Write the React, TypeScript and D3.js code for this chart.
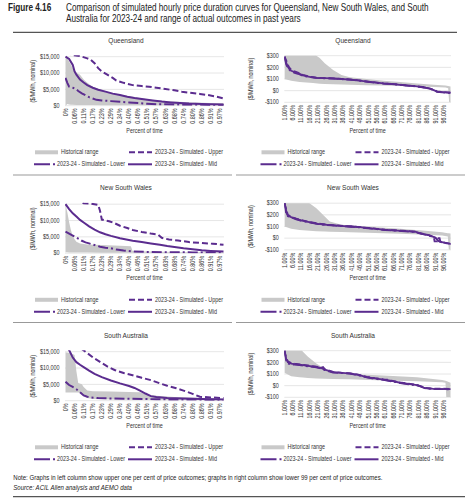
import React from "react";
import * as d3 from "d3";

const PURPLE = "#5b2c8f";
const GREY = "#c9c9c9";
const GRID = "#e0e0e0";
const FONT = "'Liberation Sans', Arial, sans-serif";
const SX = 0.82;

const panelTitles = ["Queensland", "New South Wales", "South Australia"];
const topTickLabels = ["0%", "0.06%", "0.11%", "0.17%", "0.23%", "0.29%", "0.34%", "0.40%", "0.46%", "0.51%", "0.57%", "0.63%", "0.68%", "0.74%", "0.80%", "0.86%", "0.91%", "0.97%"];
const bottomTickLabels = ["1.00%", "6.00%", "11.00%", "16.00%", "21.00%", "26.00%", "31.00%", "36.00%", "41.00%", "46.00%", "51.00%", "56.00%", "61.00%", "66.00%", "71.00%", "76.00%", "81.00%", "86.00%", "91.00%", "96.00%"];
const topYTicks = [0, 5000, 10000, 15000];
const bottomYTicks = [-100, 0, 100, 200, 300];
const legendLabels = ["Historical range", "2023-24 - Simulated - Upper", "2023-24 - Simulated - Lower", "2023-24 - Simulated - Mid"];

// ---- Upper 1 per cent (hour index 0..87) ----
const qldTopHist = [[0, 0, 15000], [1, 500, 14500], [2, 400, 13500], [3, 300, 12500], [4, 300, 11500], [6, 250, 10200], [8, 250, 9500], [10, 200, 8000], [12, 200, 7000], [15, 200, 5800], [20, 150, 4800], [25, 150, 4000], [30, 150, 3400], [35, 100, 2900], [40, 100, 2400], [45, 100, 2000], [50, 100, 1700], [55, 100, 1450], [60, 100, 1250], [70, 100, 1000], [80, 100, 850], [87, 100, 750]];
const qldTopUpper = [[0, 16500], [4, 15500], [8, 15200], [12, 14500], [14, 14000], [16, 13000], [18, 11500], [20, 10500], [23, 9500], [26, 8500], [28, 7700], [32, 7000], [37, 6300], [42, 6000], [46, 5800], [50, 5500], [55, 5100], [60, 4700], [64, 4300], [68, 4000], [74, 3600], [78, 3300], [83, 2800], [87, 2200]];
const qldTopLower = [[0, 8500], [1, 7000], [2, 5800], [4, 5500], [6, 5000], [7, 4500], [9, 3800], [11, 3200], [13, 2600], [15, 2200], [17, 1800], [20, 1600], [25, 1400], [30, 1200], [35, 1000], [40, 800], [45, 600], [50, 450], [60, 350], [70, 300], [87, 200]];
const qldTopMid = [[0, 15000], [2, 14300], [4, 12500], [5, 10500], [6, 9500], [8, 8000], [10, 7100], [12, 6300], [15, 5500], [18, 4900], [22, 4300], [26, 3700], [30, 3250], [34, 2750], [38, 2350], [43, 1950], [48, 1600], [53, 1250], [58, 1000], [63, 800], [68, 650], [75, 550], [80, 480], [87, 400]];

const nswTopHist = [[0, 300, 15000], [1, 300, 12500], [2, 250, 9500], [3, 250, 7000], [4, 200, 5300], [5, 200, 4300], [6, 200, 3500], [8, 200, 3000], [12, 200, 2700], [20, 150, 2500], [30, 150, 2300], [36, 150, 2100], [37, 100, 600], [45, 100, 500], [60, 100, 400], [87, 100, 300]];
const nswTopUpper = [[0, 17000], [8, 16000], [10, 15300], [14, 15200], [18, 14800], [19, 13000], [20, 10300], [24, 9800], [27, 9200], [30, 8400], [34, 7700], [37, 7100], [42, 6500], [47, 6000], [51, 5700], [53, 4700], [57, 4200], [62, 3900], [68, 3400], [75, 3100], [81, 2900], [87, 2600]];
const nswTopLower = [[0, 6600], [2, 6000], [4, 5400], [6, 4800], [8, 4200], [9, 3800], [11, 3300], [13, 3000], [16, 2500], [19, 2000], [22, 1700], [25, 1500], [28, 1100], [32, 800], [37, 550], [45, 400], [55, 300], [70, 250], [87, 200]];
const nswTopMid = [[0, 15000], [2, 13500], [4, 12200], [6, 11200], [8, 10200], [10, 9400], [13, 8200], [16, 7200], [19, 6400], [22, 5800], [25, 5300], [30, 4600], [37, 3800], [42, 3400], [47, 3000], [52, 2600], [56, 2200], [60, 1900], [65, 1500], [70, 1200], [75, 900], [80, 700], [87, 500]];

const saTopHist = [[0, 2500, 14800], [3, 2500, 14500], [5, 2500, 14000], [6, 2500, 9000], [7, 2500, 5400], [9, 2200, 5000], [10, 1500, 4200], [12, 800, 3100], [15, 500, 2900], [25, 400, 2800], [35, 300, 2700], [41, 300, 2600], [44, 300, 2000], [50, 300, 1500], [60, 250, 1100], [75, 200, 800], [87, 200, 600]];
const saTopUpper = [[0, 19000], [6, 17000], [11, 15000], [15, 13300], [19, 11900], [23, 10500], [27, 9400], [32, 8500], [37, 7800], [42, 7000], [47, 6300], [52, 5300], [56, 4600], [61, 3800], [65, 3100], [70, 2100], [74, 1200], [80, 1000], [87, 800]];
const saTopLower = [[0, 5800], [2, 4800], [4, 4200], [6, 3500], [8, 2600], [10, 1600], [12, 1200], [14, 1000], [18, 800], [25, 700], [35, 600], [50, 450], [65, 350], [87, 300]];
const saTopMid = [[0, 17000], [2, 15500], [4, 13200], [6, 11800], [8, 11000], [10, 10300], [13, 9200], [16, 8200], [20, 7200], [25, 6200], [30, 5300], [35, 4500], [38, 3900], [41, 3100], [44, 2200], [47, 1400], [50, 1100], [56, 850], [65, 650], [75, 500], [87, 400]];

// ---- Lower 99 per cent (percent of time 1..100) ----
const qldBotHist = [[1, 100, 330], [5, 85, 330], [10, 74, 330], [18, 65, 320], [22, 60, 280], [25, 58, 235], [30, 54, 178], [35, 52, 135], [40, 50, 115], [50, 47, 100], [60, 44, 85], [70, 40, 74], [80, 36, 62], [90, 32, 51], [97, 28, 45], [98.6, 20, 40], [99.2, -100, 38], [100, -100, 35]];
const qldBotUpper = [[1, 295], [2, 260], [3, 220], [4, 195], [5, 180], [7, 165], [9, 155], [12, 135], [16, 120], [20, 112], [25, 108], [30, 105], [35, 101], [40, 96], [45, 89], [48, 84], [52, 76], [56, 69], [60, 63], [65, 58], [70, 51], [75, 44], [80, 37], [85, 28], [88, 18], [90, 7], [92, -6], [95, -11], [100, -17]];
const qldBotLower = [[1, 285], [2, 225], [3, 195], [4, 178], [5, 165], [7, 152], [9, 145], [12, 128], [16, 116], [20, 109], [25, 106], [30, 104], [35, 99], [40, 94], [45, 87], [48, 81], [52, 74], [56, 67], [60, 61], [65, 56], [70, 49], [75, 42], [80, 35], [85, 25], [88, 15], [90, 3], [92, -10], [95, -14], [100, -20]];
const qldBotMid = [[1, 290], [2, 240], [3, 205], [4, 185], [5, 170], [7, 160], [9, 150], [12, 132], [16, 118], [20, 110], [25, 107], [30, 105], [35, 100], [40, 95], [45, 88], [48, 82], [52, 75], [56, 68], [60, 62], [65, 57], [70, 50], [75, 43], [80, 36], [85, 26], [88, 16], [90, 5], [92, -8], [95, -12], [100, -18]];

const nswBotHist = [[1, 100, 330], [5, 80, 330], [10, 70, 330], [14, 65, 320], [20, 60, 257], [25, 58, 186], [28, 55, 143], [35, 52, 114], [50, 46, 100], [70, 38, 80], [85, 29, 63], [95, 22, 51], [98.4, 15, 43], [99, -100, 42], [100, -100, 40]];
const nswBotUpper = [[1, 300], [2, 250], [3, 200], [5, 183], [8, 168], [11, 155], [15, 142], [21, 125], [26, 116], [31, 110], [36, 105], [41, 100], [46, 95], [51, 87], [56, 80], [61, 72], [66, 68], [71, 64], [76, 59], [79, 56], [81, 46], [84, 36], [87, 26], [89, 16], [90, 10], [90.5, -28], [92, -28], [92.3, 0], [93.5, 0], [94, -33], [97, -40], [100, -50]];
const nswBotLower = [[1, 300], [2, 210], [3, 188], [5, 177], [8, 162], [11, 149], [15, 138], [21, 121], [26, 113], [31, 107], [36, 102], [41, 98], [46, 92], [51, 84], [56, 77], [61, 69], [66, 65], [71, 61], [76, 56], [79, 53], [81, 43], [84, 33], [87, 23], [89, 13], [91, 2], [93, -27], [95, -36], [97, -42], [100, -52]];
const nswBotMid = [[1, 300], [1.5, 270], [2.5, 205], [3, 192], [5, 180], [8, 165], [11, 152], [15, 140], [21, 123], [26, 115], [31, 109], [36, 104], [41, 100], [46, 94], [51, 86], [56, 79], [61, 71], [66, 67], [71, 63], [76, 58], [79, 55], [81, 45], [84, 35], [87, 25], [89, 15], [91, 5], [93, -25], [95, -34], [97, -40], [100, -50]];

const saBotHist = [[1, 110, 330], [5, 80, 330], [10, 72, 330], [12, 70, 290], [15, 66, 248], [20, 62, 190], [25, 60, 145], [30, 58, 116], [40, 54, 101], [60, 45, 87], [80, 38, 72], [95, 30, 49], [97, 25, 42], [97.5, -100, 40], [100, -100, 25]];
const saBotUpper = [[1, 300], [2, 240], [3, 210], [5, 195], [7, 188], [10, 183], [15, 173], [20, 163], [23, 155], [24, 160], [25, 142], [28, 128], [30, 118], [35, 111], [40, 106], [45, 94], [50, 76], [55, 64], [60, 54], [63, 50], [64, 40], [65, 42], [70, 27], [75, 17], [80, 7], [82, -3], [85, -20], [90, -26], [100, -27]];
const saBotLower = [[1, 295], [2, 215], [3, 190], [5, 183], [7, 180], [10, 176], [15, 166], [20, 156], [23, 146], [25, 134], [28, 121], [30, 113], [35, 108], [40, 103], [45, 89], [50, 71], [55, 59], [60, 49], [65, 37], [70, 22], [75, 12], [78, 5], [79, -5], [80, 3], [82, -7], [85, -24], [90, -30], [100, -31]];
const saBotMid = [[1, 300], [2, 230], [3, 200], [5, 190], [7, 185], [10, 180], [15, 170], [20, 160], [23, 150], [25, 138], [28, 125], [30, 116], [35, 110], [40, 105], [45, 92], [50, 74], [55, 62], [60, 52], [65, 40], [70, 25], [75, 15], [80, 5], [82, -5], [85, -22], [90, -28], [100, -29]];

const topPanels = [
  { hist: qldTopHist, upper: qldTopUpper, lower: qldTopLower, mid: qldTopMid },
  { hist: nswTopHist, upper: nswTopUpper, lower: nswTopLower, mid: nswTopMid },
  { hist: saTopHist, upper: saTopUpper, lower: saTopLower, mid: saTopMid },
];
const bottomPanels = [
  { hist: qldBotHist, upper: qldBotUpper, lower: qldBotLower, mid: qldBotMid },
  { hist: nswBotHist, upper: nswBotUpper, lower: nswBotLower, mid: nswBotMid },
  { hist: saBotHist, upper: saBotUpper, lower: saBotLower, mid: saBotMid },
];

const ROW_DY = 147.5;
const fmtMoney = (v: number) => (v < 0 ? "-$" : "$") + d3.format(",")(Math.abs(v));

type Series = { hist: number[][]; upper: number[][]; lower: number[][]; mid: number[][] };

function T({
  x, y, rot = 0, size = 6.6, anchor = "start", italic = false, bold = false, fill = "#333", sx = SX, baseline = "central", children,
}: {
  x: number; y: number; rot?: number; size?: number; anchor?: "start" | "middle" | "end";
  italic?: boolean; bold?: boolean; fill?: string; sx?: number; baseline?: string; children: React.ReactNode;
}) {
  return (
    <text
      transform={`translate(${x},${y}) rotate(${rot}) scale(${sx},1)`}
      textAnchor={anchor}
      dominantBaseline={baseline}
      fontSize={size}
      fontFamily={FONT}
      fontStyle={italic ? "italic" : "normal"}
      fontWeight={bold ? "bold" : "normal"}
      fill={fill}
    >
      {children}
    </text>
  );
}

function Legend({ dx, dy }: { dx: number; dy: number }) {
  const y1 = 152.3 + dy;
  const y2 = 164.3 + dy;
  return (
    <g transform={`translate(${dx},0)`}>
      <line x1={35} x2={58} y1={y1} y2={y1} stroke={GREY} strokeWidth={4} />
      <T x={61} y={y1}>{legendLabels[0]}</T>
      <line x1={129} x2={152} y1={y1} y2={y1} stroke={PURPLE} strokeWidth={2} strokeDasharray="6,3" />
      <T x={155} y={y1}>{legendLabels[1]}</T>
      <line x1={34} x2={55} y1={y2} y2={y2} stroke={PURPLE} strokeWidth={2} strokeDasharray="16,3,2,10" />
      <T x={57} y={y2}>{legendLabels[2]}</T>
      <line x1={128} x2={152} y1={y2} y2={y2} stroke={PURPLE} strokeWidth={2} />
      <T x={155} y={y2}>{legendLabels[3]}</T>
    </g>
  );
}

function Panel({ row, kind, data }: { row: number; kind: "top" | "bot"; data: Series }) {
  const dy = row * ROW_DY;
  const isTop = kind === "top";
  const left = isTop ? 65 : 284.3;
  const right = isTop ? 224 : 451;
  const yTopPx = (isTop ? 56.7 : 55.7) + dy;
  const yBotPx = (isTop ? 105.7 : 102.3) + dy;
  const x = isTop
    ? d3.scaleLinear().domain([0, 87]).range([65.5, 223.5])
    : d3.scaleLinear().domain([1, 100]).range([284.5, 450.5]);
  const y = isTop
    ? d3.scaleLinear().domain([0, 15000]).range([yBotPx, yTopPx])
    : d3.scaleLinear().domain([-100, 300]).range([yBotPx, yTopPx]);
  const yTicks = isTop ? topYTicks : bottomYTicks;
  const tickLabels = isTop ? topTickLabels : bottomTickLabels;
  const tickPos = tickLabels.map((_, i) => (isTop ? x(i * 5) : x(1 + i * 5)));
  const area = d3.area<number[]>().x((d) => x(d[0])).y0((d) => y(d[1])).y1((d) => y(d[2]));
  const line = d3.line<number[]>().x((d) => x(d[0])).y((d) => y(d[1]));
  const clipId = `clip-${kind}-${row}`;
  const cx = (left + right) / 2;
  const titleX = isTop ? 126 : 353;
  const yTitleX = isTop ? 33 : 251;
  const lw = isTop ? 2 : 1.8;
  return (
    <g>
      <defs>
        <clipPath id={clipId}>
          <rect x={left} y={yTopPx - 1.5} width={right - left} height={yBotPx - yTopPx + 1.5} />
        </clipPath>
        <clipPath id={clipId + "a"}>
          <rect x={left} y={yTopPx} width={right - left} height={yBotPx - yTopPx} />
        </clipPath>
      </defs>
      <T x={titleX} y={40 + dy} anchor="middle" size={8}>{panelTitles[row]}</T>
      {yTicks.map((t) => (
        <g key={t}>
          <line x1={left} x2={right} y1={y(t)} y2={y(t)} stroke={GRID} strokeWidth={0.8} />
          <T x={left - 5.5} y={y(t)} anchor="end">{fmtMoney(t)}</T>
        </g>
      ))}
      <path d={area(data.hist) || ""} fill={GREY} clipPath={`url(#${clipId}a)`} />
      <g clipPath={`url(#${clipId})`} fill="none" stroke={PURPLE} strokeWidth={lw}>
        <path d={line(data.lower) || ""} strokeDasharray="10,3,2,3" />
        <path d={line(data.upper) || ""} strokeDasharray="6,3" />
        <path d={line(data.mid) || ""} />
      </g>
      {tickLabels.map((l, i) => (
        <T key={l} x={tickPos[i]} y={yBotPx + 2.8} rot={-90} anchor="end">{l}</T>
      ))}
      <T x={yTitleX} y={(yTopPx + yBotPx) / 2} rot={-90} anchor="middle">($/MWh, nominal)</T>
      <T x={cx} y={130.7 + dy} anchor="middle">Percent of time</T>
      <Legend dx={isTop ? 0 : 226.5} dy={dy} />
    </g>
  );
}

export default function App() {
  return (
    <svg
      width={470}
      height={500}
      viewBox="0 0 470 500"
      style={{ position: "absolute", left: 0, top: 0, background: "#fff", display: "block" }}
    >
      <rect x={0} y={0} width={470} height={500} fill="#fff" />
      <T x={8} y={11} size={10} bold fill="#222" baseline="auto">Figure 4.16</T>
      <T x={66} y={11} size={10} fill="#222" baseline="auto">
        Comparison of simulated hourly price duration curves for Queensland, New South Wales, and South
      </T>
      <T x={66} y={21.5} size={10} fill="#222" baseline="auto">
        Australia for 2023-24 and range of actual outcomes in past years
      </T>
      <line x1={13} x2={457} y1={32.3} y2={32.3} stroke="#555" strokeWidth={1.2} />
      {[0, 1, 2].map((r) => (
        <g key={r}>
          <Panel row={r} kind="top" data={topPanels[r]} />
          <Panel row={r} kind="bot" data={bottomPanels[r]} />
        </g>
      ))}
      {[0, 1].map((r) => (
        <g key={"sep" + r}>
          <line x1={13} x2={232} y1={175 + r * ROW_DY} y2={175 + r * ROW_DY} stroke="#999" strokeWidth={1.2} />
          <line x1={236} x2={465} y1={175 + r * ROW_DY} y2={175 + r * ROW_DY} stroke="#999" strokeWidth={1.2} />
        </g>
      ))}
      <T x={13.3} y={480} size={7.4} fill="#222" baseline="auto">
        Note: Graphs in left column show upper one per cent of price outcomes; graphs in right column show lower 99 per cent of price outcomes.
      </T>
      <T x={13.3} y={490} size={7.4} italic fill="#222" baseline="auto">
        Source: ACIL Allen analysis and AEMO data
      </T>
      <line x1={13} x2={465} y1={496.7} y2={496.7} stroke="#555" strokeWidth={1.2} />
    </svg>
  );
}
